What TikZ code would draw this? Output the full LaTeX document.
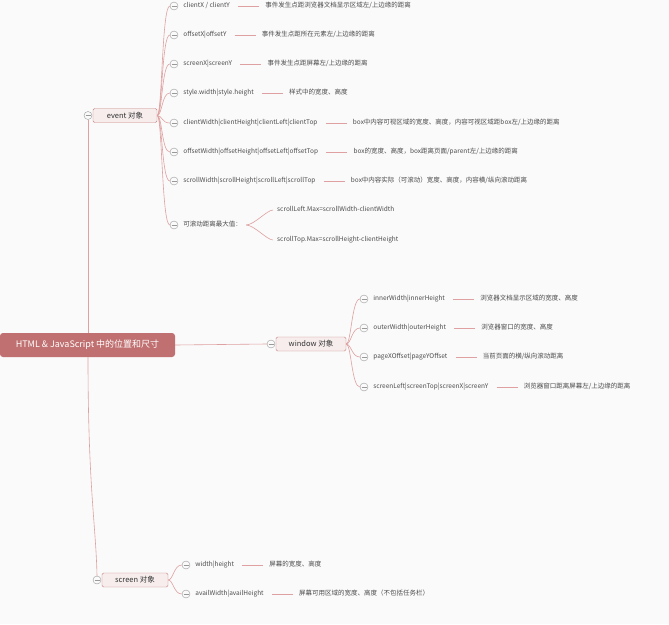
\documentclass[tikz,border=0pt]{standalone}
\usepackage{fontspec}
\setmainfont{Noto Sans CJK SC}
\usetikzlibrary{positioning}
\definecolor{mmRoot}{RGB}{192,112,112}
\definecolor{mmLine}{RGB}{222,160,160}
\definecolor{mmBox}{RGB}{247,237,237}
\definecolor{mmEdge}{RGB}{200,130,130}
\definecolor{mmText}{RGB}{75,75,75}
\definecolor{mmBack}{RGB}{250,250,250}
\newcommand{\mmLeaf}[5]{%
	\node[fold] (#1f) at #2 {};
	\node[leaf,right=5pt of #1f] (#1) {#4};
	\node[leaf,right=35pt of #1] (#1d) {#5};
	\draw[link,shorten <=8pt,shorten >=6pt] (#1) -- (#1d);
	\draw[branch] (#3) .. controls +(5,0) and +(-8,0) .. (#1f.west);
}
\begin{document}
\begin{tikzpicture}[x=1pt,y=-1pt,font=\fontsize{6.5}{7}\selectfont,
	branch/.style={draw=mmLine,line width=0.6pt},
	link/.style={draw=mmLine,line width=0.8pt},
	fold/.style={circle,draw=gray!80,fill=mmBack,line width=0.4pt,minimum size=8pt,inner sep=0pt,
		path picture={\draw[gray!80,line width=0.4pt] ([xshift=-2.5pt]path picture bounding box.center) -- ([xshift=2.5pt]path picture bounding box.center);}},
	leaf/.style={inner sep=0pt,text=mmText,text height=5pt,text depth=1.5pt},
	topic/.style={draw=mmEdge,fill=mmBox,rounded corners=1.5pt,inner sep=0pt,minimum height=14pt,text=black!80,font=\fontsize{7.5}{8}\selectfont},
	central/.style={fill=mmRoot,rounded corners=3pt,text=white,minimum width=175pt,minimum height=24pt,font=\fontsize{9}{10}\selectfont}]
	\fill[mmBack] (0,0) rectangle (669,624);
	\useasboundingbox (0,0) rectangle (669,624);
	\node[central] (root) at (87.5,345) {HTML \& JavaScript 中的位置和尺寸};
	\node[topic,minimum width=64pt] (event) at (125,115.5) {event 对象};
	\node[topic,minimum width=70pt] (window) at (311,344) {window 对象};
	\node[topic,minimum width=66pt] (screen) at (135,580) {screen 对象};
	\node[fold] (eventf) at (88,115.5) {};
	\node[fold] (windowf) at (271,344) {};
	\node[fold] (screenf) at (97,580) {};
	\draw[branch] (eventf.south) -- (root.north -| eventf);
	\draw[branch] (root.south -| eventf) .. controls +(0,130) and +(-1,-50) .. (screenf.north);
	\draw[branch] (root.east) -- (windowf.west);
	\mmLeaf{e1}{(174,6)}{event.east}{clientX / clientY}{事件发生点距浏览器文档显示区域左/上边缘的距离}
	\mmLeaf{e2}{(174,35)}{event.east}{offsetX|offsetY}{事件发生点距所在元素左/上边缘的距离}
	\mmLeaf{e3}{(174,64)}{event.east}{screenX|screenY}{事件发生点距屏幕左/上边缘的距离}
	\mmLeaf{e4}{(174,93)}{event.east}{style.width|style.height}{样式中的宽度、高度}
	\mmLeaf{e5}{(174,123)}{event.east}{clientWidth|clientHeight|clientLeft|clientTop}{box中内容可视区域的宽度、高度，内容可视区域距box左/上边缘的距离}
	\mmLeaf{e6}{(174,152)}{event.east}{offsetWidth|offsetHeight|offsetLeft|offsetTop}{box的宽度、高度，box距离页面/parent左/上边缘的距离}
	\mmLeaf{e7}{(174,181)}{event.east}{scrollWidth|scrollHeight|scrollLeft|scrollTop}{box中内容实际（可滚动）宽度、高度，内容横/纵向滚动距离}
	\node[fold] (e8f) at (174,225) {};
	\node[leaf,right=5pt of e8f] (e8) {可滚动距离最大值：};
	\draw[branch] (event.east) .. controls +(5,0) and +(-8,0) .. (e8f.west);
	\node[leaf,anchor=west] (e8a) at (277,210) {scrollLeft.Max=scrollWidth-clientWidth};
	\node[leaf,anchor=west] (e8b) at (277,240) {scrollTop.Max=scrollHeight-clientHeight};
	\draw[branch,shorten <=4pt,shorten >=4pt] (e8.east) .. controls +(12,0) and +(-10,0) .. (e8a.west);
	\draw[branch,shorten <=4pt,shorten >=4pt] (e8.east) .. controls +(12,0) and +(-10,0) .. (e8b.west);
	\mmLeaf{w1}{(364,299)}{window.east}{innerWidth|innerHeight}{浏览器文档显示区域的宽度、高度}
	\mmLeaf{w2}{(364,328)}{window.east}{outerWidth|outerHeight}{浏览器窗口的宽度、高度}
	\mmLeaf{w3}{(364,357)}{window.east}{pageXOffset|pageYOffset}{当前页面的横/纵向滚动距离}
	\mmLeaf{w4}{(364,387)}{window.east}{screenLeft|screenTop|screenX|screenY}{浏览器窗口距离屏幕左/上边缘的距离}
	\mmLeaf{s1}{(186,565)}{screen.east}{width|height}{屏幕的宽度、高度}
	\mmLeaf{s2}{(186,594)}{screen.east}{availWidth|availHeight}{屏幕可用区域的宽度、高度（不包括任务栏）}
\end{tikzpicture}
\end{document}
